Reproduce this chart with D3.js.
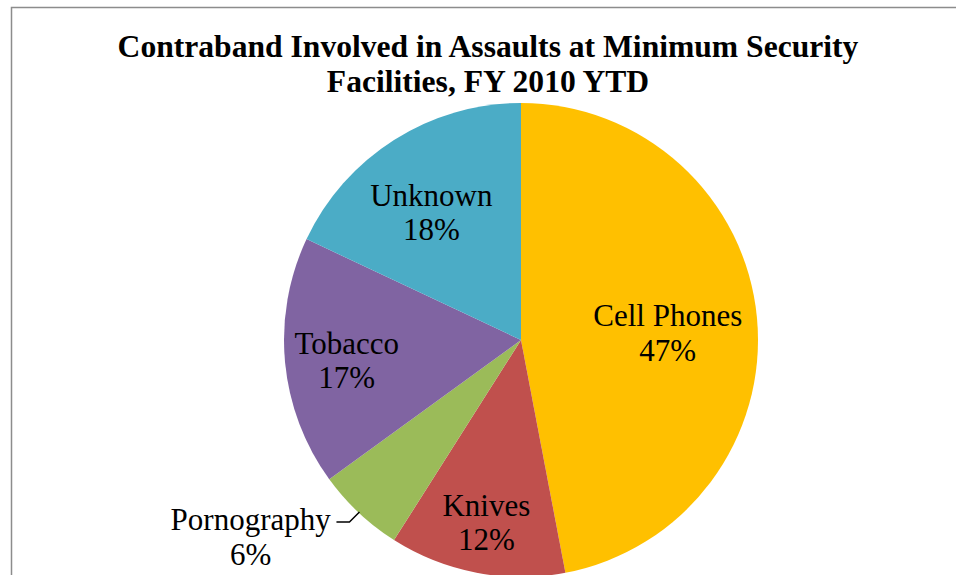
<!DOCTYPE html>
<html>
<head>
<meta charset="utf-8">
<script src="https://cdn.jsdelivr.net/npm/d3@7"></script>
<style>
  html, body { margin: 0; padding: 0; background: #fff; overflow: hidden; }
  svg { display: block; }
  .title { font-family: "Liberation Serif", "Times New Roman", serif; font-weight: bold; font-size: 31.6px; }
  .lbl { font-family: "Liberation Serif", "Times New Roman", serif; font-size: 31px; fill: #000; }
</style>
</head>
<body>
<div id="chart"></div>
<script>
// chart data
const categories = ['Cell Phones', 'Knives', 'Pornography', 'Tobacco', 'Unknown'];
const values = [47, 12, 6, 17, 18];
const colors = ['#FFC000', '#C0504D', '#9BBB59', '#8064A2', '#4BACC6'];
const titleLines = ['Contraband Involved in Assaults at Minimum Security', 'Facilities, FY 2010 YTD'];

// label placement (fraction of radius, optional angle override in degrees)
const labelRadius = [0.62, 0.78, 1.41, 0.74, 0.66];
const labelAngle = [87, null, 234, 263.5, 325];

const width = 956;
const height = 575;
const cx = 521, cy = 340, radius = 237;

const svg = d3.select('#chart')
  .append('svg')
  .attr('width', width)
  .attr('height', height);

// outer chart border (runs off the right and bottom of the frame)
svg.append('rect')
  .attr('x', 11.5)
  .attr('y', 7.5)
  .attr('width', width + 20)
  .attr('height', height + 20)
  .attr('fill', 'none')
  .attr('stroke', '#8c8c8c')
  .attr('stroke-width', 1.5);

// title
svg.append('text')
  .attr('class', 'title')
  .attr('text-anchor', 'middle')
  .selectAll('tspan')
  .data(titleLines)
  .enter().append('tspan')
  .attr('x', 488)
  .attr('y', (d, i) => 57 + i * 35)
  .text((d) => d);

const data = categories.map((c, i) => ({ name: c, value: values[i], color: colors[i], idx: i }));

const pie = d3.pie()
  .value((d) => d.value)
  .sort(null);

const arc = d3.arc()
  .innerRadius(0)
  .outerRadius(radius);

const arcs = pie(data);
const total = d3.sum(values);

const g = svg.append('g')
  .attr('transform', `translate(${cx},${cy})`);

g.selectAll('path')
  .data(arcs)
  .enter().append('path')
  .attr('d', arc)
  .attr('fill', (d) => d.data.color);

// polar helper: angle from 12 o'clock, clockwise
const polar = (a, r) => [Math.sin(a) * r, -Math.cos(a) * r];

const lineH = 34.5;
g.selectAll('text.lbl')
  .data(arcs)
  .enter().append('text')
  .attr('class', 'lbl')
  .attr('text-anchor', 'middle')
  .each(function (d) {
    const i = d.data.idx;
    const mid = (d.startAngle + d.endAngle) / 2;
    const a = labelAngle[i] == null ? mid : labelAngle[i] * Math.PI / 180;
    const [x, y] = polar(a, labelRadius[i] * radius);
    const t = d3.select(this);
    t.append('tspan')
      .attr('x', x)
      .attr('y', y - 6)
      .text(d.data.name);
    t.append('tspan')
      .attr('x', x)
      .attr('y', y - 6 + lineH)
      .text(Math.round(d.data.value / total * 100) + '%');
  });

// leader line for the outside label
arcs.filter((d) => labelRadius[d.data.idx] > 1).forEach((d) => {
  const mid = (d.startAngle + d.endAngle) / 2;
  const [ex, ey] = polar(mid, radius - 1);
  const kx = ex - 10, ky = ey + 10;
  g.append('path')
    .attr('d', `M${ex},${ey}L${kx},${ky}L${kx - 13},${ky}`)
    .attr('fill', 'none')
    .attr('stroke', '#000')
    .attr('stroke-width', 1.5);
});
</script>
</body>
</html>
